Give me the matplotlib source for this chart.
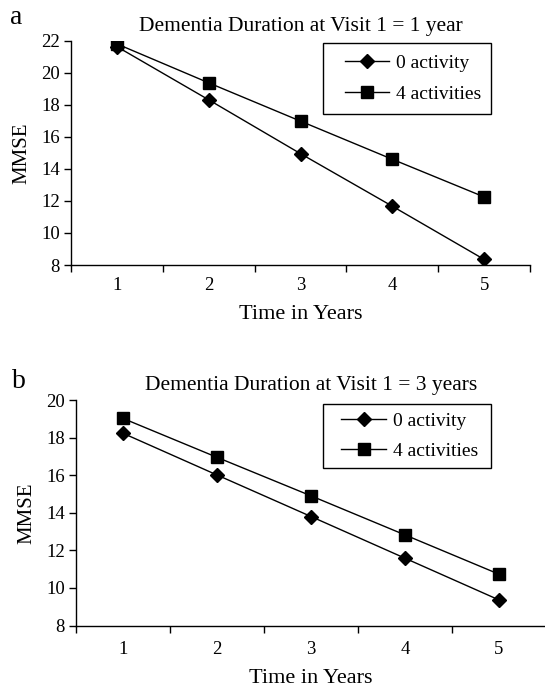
import matplotlib
matplotlib.use("Agg")
import matplotlib.pyplot as plt
from matplotlib.legend_handler import HandlerLine2D
import numpy as np

plt.rcParams['font.family'] = ['Liberation Serif', 'DejaVu Serif']

years = ["1", "2", "3", "4", "5"]
a_zero = [21.63, 18.31, 14.95, 11.67, 8.35]
a_four = [21.80, 19.37, 16.98, 14.60, 12.25]
b_zero = [18.23, 16.01, 13.80, 11.58, 9.36]
b_four = [19.02, 16.95, 14.90, 12.82, 10.73]
series_labels = ["0 activity", "4 activities"]
titles = ["Dementia Duration at Visit 1 = 1 year", "Dementia Duration at Visit 1 = 3 years"]
panel_letters = ["a", "b"]

W, H = 545, 688
fig = plt.figure(figsize=(W / 100, H / 100), dpi=100)

def px_axes(l, r, t, b):
    return fig.add_axes([l / W, 1 - b / H, (r - l) / W, (b - t) / H])

ax_a = px_axes(71, 530, 40.7, 265)
ax_b = px_axes(76, 546, 400, 625.5)

panels = [
    (ax_a, a_zero, a_four, (8, 22), np.arange(8, 23, 2), (323, 491, 43), 0.72, 0.56, 8.5),
    (ax_b, b_zero, b_four, (8, 20), np.arange(8, 21, 2), (323, 491, 404), 0.64, 0.42, 11),
]

LEG_FS = 14

for i, (ax, z, f, ylim, yticks, leg, lsp, bpad, xpad_lab) in enumerate(panels):
    x = np.arange(len(years)) + 0.5
    ax.plot(x, z, color='black', lw=1.0, marker='D', ms=7, mfc='black', mec='black',
            label=series_labels[0])
    ax.plot(x, f, color='black', lw=1.0, marker='s', ms=9, mfc='black', mec='black',
            label=series_labels[1])
    ax.set_xlim(0, len(years))
    ax.set_ylim(*ylim)
    ax.set_yticks(yticks)
    ax.set_xticks(np.arange(len(years) + 1))
    ax.set_xticklabels([])
    ax.set_xticks(x, minor=True)
    ax.set_xticklabels(years, minor=True)
    ax.tick_params(axis='x', which='minor', length=0, pad=xpad_lab, labelsize=13.5)
    ax.tick_params(axis='x', which='major', length=5, direction='out', width=1)
    ax.tick_params(axis='y', length=5, direction='out', width=1, labelsize=13.5, pad=3)
    for s in ['top', 'right']:
        ax.spines[s].set_visible(False)
    for s in ['left', 'bottom']:
        ax.spines[s].set_linewidth(1.0)
    ax.set_ylabel("MMSE", fontsize=15, labelpad=7)
    ax.set_xlabel("Time in Years", fontsize=16, labelpad=8)
    ax.set_title(titles[i], fontsize=15.5, pad=7)
    ll, lr, lt = leg
    fs_px = LEG_FS * 100 / 72.0
    start = ll + bpad * fs_px
    xpad = (345 - start) / fs_px if i == 0 else (341 - start) / fs_px
    hend = 389 if i == 0 else 386
    hlen = (hend - start) / fs_px
    handler = HandlerLine2D(xpad=xpad)
    lg = ax.legend(loc='upper left', bbox_to_anchor=(ll / W, 1 - lt / H, (lr - ll) / W, 0.0),
                   bbox_transform=fig.transFigure, mode='expand', fontsize=LEG_FS, frameon=True,
                   fancybox=False, edgecolor='black', framealpha=1.0, borderaxespad=0,
                   handlelength=hlen, handletextpad=0.36, labelspacing=lsp, borderpad=bpad,
                   handler_map={matplotlib.lines.Line2D: handler})
    lg.get_frame().set_linewidth(1.0)

fig.text(16 / W, 1 - 17 / H, panel_letters[0], fontsize=20, ha='center', va='center')
fig.text(19 / W, 1 - 382 / H, panel_letters[1], fontsize=20, ha='center', va='center')

fig.savefig("out.png", dpi=100)
